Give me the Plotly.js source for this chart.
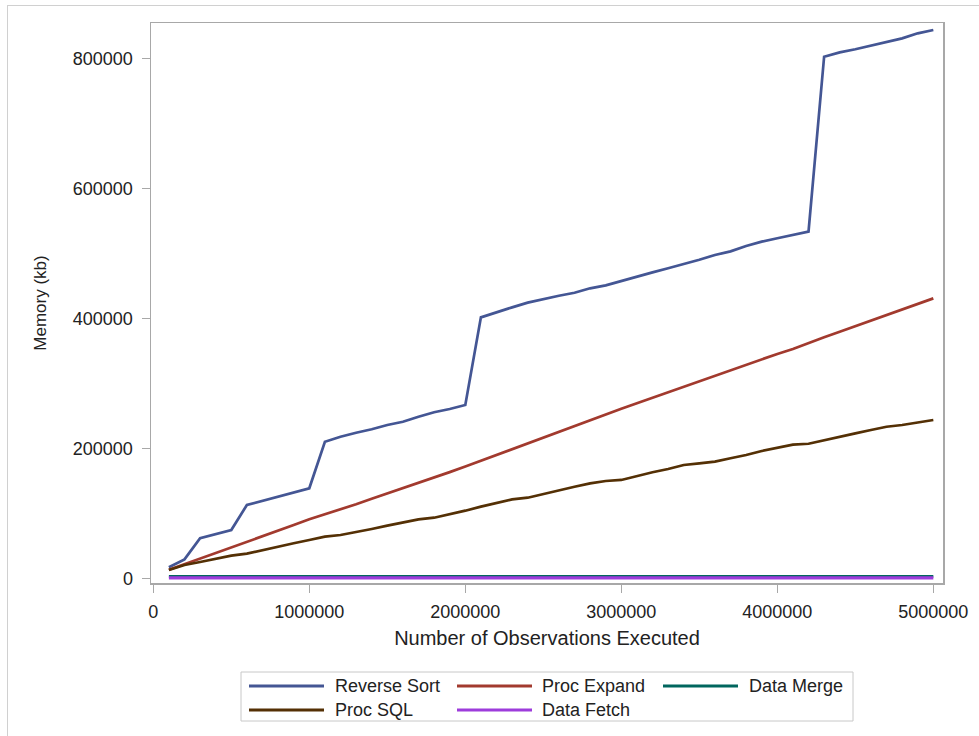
<!DOCTYPE html>
<html>
<head>
<meta charset="utf-8">
<script src="https://cdn.plot.ly/plotly-3.0.1.min.js"></script>
<style>
  html, body { margin: 0; padding: 0; background: #fff; overflow: hidden; }
  #frame { position: absolute; left: 7px; top: 5px; width: 1100px; height: 900px; border: 1px solid #d0d0d0; pointer-events: none; }
  #chart { position: absolute; left: 0; top: 0; width: 979px; height: 736px; }
</style>
</head>
<body>
<div id="frame"></div>
<div id="chart"></div>
<script>
// ---- data ----
const observations = [100000, 200000, 300000, 400000, 500000, 600000, 700000, 800000, 900000, 1000000,
  1100000, 1200000, 1300000, 1400000, 1500000, 1600000, 1700000, 1800000, 1900000, 2000000,
  2100000, 2200000, 2300000, 2400000, 2500000, 2600000, 2700000, 2800000, 2900000, 3000000,
  3100000, 3200000, 3300000, 3400000, 3500000, 3600000, 3700000, 3800000, 3900000, 4000000,
  4100000, 4200000, 4300000, 4400000, 4500000, 4600000, 4700000, 4800000, 4900000, 5000000];

const reverseSort = [16900, 29200, 61600, 68200, 74400, 112900, 119500, 125200, 131800, 138600,
  210300, 218000, 224200, 229400, 236000, 241100, 248800, 255600, 260700, 266800,
  401800, 410000, 417200, 424400, 430000, 435100, 439700, 446500, 451100, 457800,
  465400, 471100, 477300, 483500, 490500, 497800, 503400, 511600, 518300, 523500,
  529000, 533700, 803100, 809800, 814500, 820000, 825200, 831400, 839100, 844200];

const procExpand = [13000, 21500, 30000, 38500, 47000, 56000, 65000, 73500, 82000, 91000,
  98500, 105500, 114000, 122500, 130500, 139000, 147000, 155000, 163500, 172000,
  181000, 189500, 198500, 207500, 216000, 225000, 234000, 243000, 252000, 261000,
  269500, 278000, 286500, 295000, 303500, 312000, 320500, 329000, 337000, 345500,
  353000, 362500, 371000, 379500, 388000, 396500, 405000, 414000, 422500, 431000];

const dataMerge = [3000, 3000, 3000, 3000, 3000, 3000, 3000, 3000, 3000, 3000,
  3000, 3000, 3000, 3000, 3000, 3000, 3000, 3000, 3000, 3000,
  3000, 3000, 3000, 3000, 3000, 3000, 3000, 3000, 3000, 3000,
  3000, 3000, 3000, 3000, 3000, 3000, 3000, 3000, 3000, 3000,
  3000, 3000, 3000, 3000, 3000, 3000, 3000, 3000, 3000, 3000];

const procSQL = [12800, 20500, 25100, 30200, 34800, 37900, 43600, 48700, 53900, 59000,
  64100, 66700, 70800, 75900, 81000, 85600, 90800, 93300, 98500, 104100,
  110300, 116400, 121600, 124100, 129800, 136000, 141000, 146200, 149800, 151400,
  157500, 163200, 168300, 174400, 177000, 179600, 184800, 189800, 196000, 201100,
  205700, 207200, 212900, 218600, 223200, 228300, 233400, 236000, 239600, 243700];

const dataFetch = [600, 600, 600, 600, 600, 600, 600, 600, 600, 600,
  600, 600, 600, 600, 600, 600, 600, 600, 600, 600,
  600, 600, 600, 600, 600, 600, 600, 600, 600, 600,
  600, 600, 600, 600, 600, 600, 600, 600, 600, 600,
  600, 600, 600, 600, 600, 600, 600, 600, 600, 600];

const seriesNames = ["Reverse Sort", "Proc Expand", "Data Merge", "Proc SQL", "Data Fetch"];
const seriesValues = [reverseSort, procExpand, dataMerge, procSQL, dataFetch];
const seriesColors = ["#445694", "#A23A2E", "#01665E", "#543005", "#9D3CDB"];
const seriesWidths = [2.7, 2.7, 2.7, 2.7, 3.2];

const xTicks = [0, 1000000, 2000000, 3000000, 4000000, 5000000];
const yTicks = [0, 200000, 400000, 600000, 800000];

// ---- layout geometry (pixels) ----
const W = 979, H = 736;
const plotL = 151, plotR = 943, plotT = 23, plotB = 583;
const pw = plotR - plotL, ph = plotB - plotT;
const px = x => (x - plotL) / pw;
const py = y => (plotB - y) / ph;

const FONT = "Arial, 'Liberation Sans', Helvetica, sans-serif";
const TXT = "#222";
const AX = "#a8a8a8";

const traces = seriesNames.map((n, i) => ({
  type: "scatter", mode: "lines", name: n,
  x: observations, y: seriesValues[i],
  line: { color: seriesColors[i], width: seriesWidths[i] },
  showlegend: false, hoverinfo: "x+y+name"
}));

// custom legend (lines + text)
const legendCols = [{ l0: 249, l1: 324, t: 333 }, { l0: 457, l1: 532, t: 540 }, { l0: 663, l1: 738, t: 747 }];
const legendRows = [686, 710];
const shapes = [{
  type: "rect", xref: "paper", yref: "paper",
  x0: px(241), x1: px(853), y0: py(672), y1: py(721),
  line: { color: "#c8c8c8", width: 1 }, fillcolor: "rgba(0,0,0,0)", layer: "above"
}];
const annotations = [];
seriesNames.forEach((n, i) => {
  const c = legendCols[i % 3], r = legendRows[Math.floor(i / 3)];
  shapes.push({
    type: "line", xref: "paper", yref: "paper",
    x0: px(c.l0), x1: px(c.l1), y0: py(r), y1: py(r),
    line: { color: seriesColors[i], width: 3 }
  });
  annotations.push({
    xref: "paper", yref: "paper", x: px(c.t), y: py(r),
    xanchor: "left", yanchor: "middle", showarrow: false,
    text: n, font: { family: FONT, size: 18, color: TXT }
  });
});

const layout = {
  width: W, height: H,
  margin: { l: plotL, r: W - plotR, t: plotT, b: H - plotB, pad: 0 },
  paper_bgcolor: "rgba(0,0,0,0)", plot_bgcolor: "#fff",
  font: { family: FONT, size: 18, color: TXT },
  showlegend: false,
  xaxis: {
    range: [-14700, 5062000], tickvals: xTicks, tickformat: "d",
    showgrid: false, zeroline: false,
    showline: true, mirror: true, linecolor: AX, linewidth: 1.5,
    ticks: "outside", ticklen: 8, tickcolor: AX, tickwidth: 1.5,
    ticklabelstandoff: 4,
    tickfont: { family: FONT, size: 18, color: TXT },
    title: { text: "Number of Observations Executed", font: { family: FONT, size: 20, color: TXT }, standoff: 10 },
    automargin: false
  },
  yaxis: {
    range: [-7240, 855000], tickvals: yTicks, tickformat: "d",
    showgrid: false, zeroline: false,
    showline: true, mirror: true, linecolor: AX, linewidth: 1.5,
    ticks: "outside", ticklen: 8, tickcolor: AX, tickwidth: 1.5,
    ticklabelstandoff: 5,
    tickfont: { family: FONT, size: 18, color: TXT },
    title: { text: "Memory (kb)", font: { family: FONT, size: 17, color: TXT }, standoff: 22 },
    automargin: false
  },
  shapes: shapes,
  annotations: annotations
};

Plotly.newPlot("chart", traces, layout, { displayModeBar: false, staticPlot: true });
</script>
</body>
</html>
